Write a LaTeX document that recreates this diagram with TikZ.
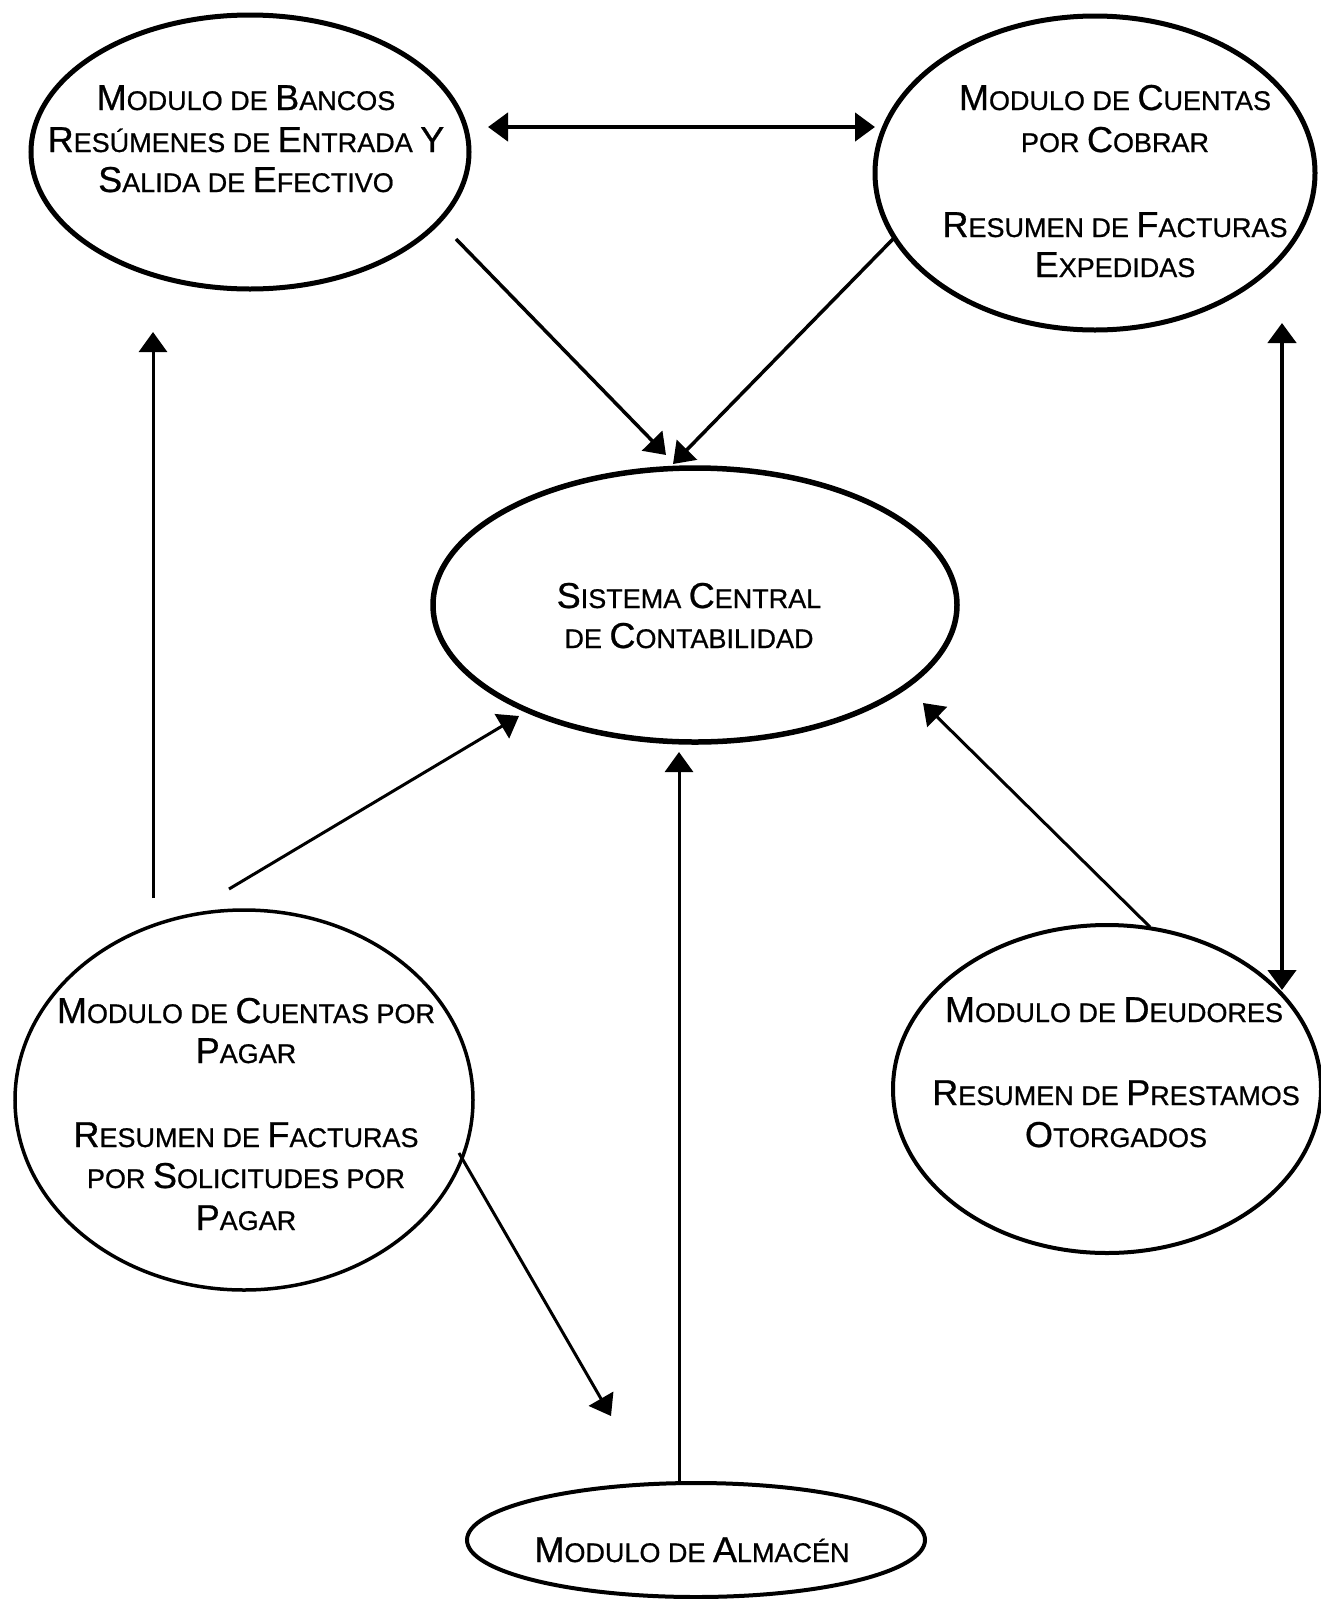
\documentclass[tikz,border=0pt]{standalone}
\usepackage{fontspec}
\setmainfont{Liberation Sans}[FakeBold=0.7]
\usetikzlibrary{arrows.meta,shapes.geometric}
\newcommand\BC[1]{{\fontsize{36}{41}\selectfont #1}}
\tikzset{
  oval/.style={draw, ellipse, inner sep=0pt, line width=#1},
  lbl/.style={anchor=base, inner sep=0pt, font=\fontsize{27}{41}\selectfont},
  con/.style={line width=#1, -{Triangle[length=20pt,width=28pt]}},
  dcon/.style={line width=#1, {Triangle[length=20pt,width=28pt]}-{Triangle[length=20pt,width=28pt]}},
}
\begin{document}
\begin{tikzpicture}[x=1pt,y=-1pt]
\useasboundingbox[fill=white] (0,0) rectangle (1321,1599);
% ellipses
\node[oval=5pt, minimum width=438pt, minimum height=274pt] (bancos) at (250,152) {};
\node[oval=5pt, minimum width=440pt, minimum height=314pt] (cobrar) at (1095,173) {};
\node[oval=5.5pt, minimum width=524pt, minimum height=274pt] (central) at (695,605) {};
\node[oval=3.5pt, minimum width=458pt, minimum height=380pt] (pagar) at (244,1100) {};
\node[oval=4pt, minimum width=428pt, minimum height=328pt] (deudores) at (1107,1089) {};
\node[oval=4pt, minimum width=458pt, minimum height=114pt] (almacen) at (696,1540) {};
% texts
\node[lbl] (bancosA) at (246,110) {\BC{M}ODULO DE \BC{B}ANCOS};
\node[lbl] (bancosB) at (246,152) {\BC{R}ESÚMENES DE \BC{E}NTRADA \BC{Y}};
\node[lbl] (bancosC) at (246,192) {\BC{S}ALIDA DE \BC{E}FECTIVO};
\node[lbl] (cobrarA) at (1115,110) {\BC{M}ODULO DE \BC{C}UENTAS};
\node[lbl] (cobrarB) at (1115,152) {POR \BC{C}OBRAR};
\node[lbl] (cobrarC) at (1115,237) {\BC{R}ESUMEN DE \BC{F}ACTURAS};
\node[lbl] (cobrarD) at (1115,277) {\BC{E}XPEDIDAS};
\node[lbl] (centralA) at (689,608) {\BC{S}ISTEMA \BC{C}ENTRAL};
\node[lbl] (centralB) at (689,648) {DE \BC{C}ONTABILIDAD};
\node[lbl] (pagarA) at (246,1023) {\BC{M}ODULO DE \BC{C}UENTAS POR};
\node[lbl] (pagarB) at (246,1063) {\BC{P}AGAR};
\node[lbl] (pagarC) at (246,1147) {\BC{R}ESUMEN DE \BC{F}ACTURAS};
\node[lbl] (pagarD) at (246,1188) {POR \BC{S}OLICITUDES POR};
\node[lbl] (pagarE) at (246,1230) {\BC{P}AGAR};
\node[lbl] (deudoresA) at (1114,1022) {\BC{M}ODULO DE \BC{D}EUDORES};
\node[lbl] (deudoresB) at (1116,1105) {\BC{R}ESUMEN DE \BC{P}RESTAMOS};
\node[lbl] (deudoresC) at (1116,1147) {\BC{O}TORGADOS};
\node[lbl] (almacenA) at (692,1562) {\BC{M}ODULO DE \BC{A}LMAC\'EN};
% connector end points
\coordinate (bcL) at (488,127);
\coordinate (bcR) at (875,127);
\coordinate (b2cS) at (456,239);
\coordinate (b2cE) at (666,455);
\coordinate (co2cS) at (894,238);
\coordinate (co2cE) at (673,464);
\coordinate (p2bS) at (153,898);
\coordinate (p2bE) at (153,332);
\coordinate (p2cS) at (229,889);
\coordinate (p2cE) at (519,716);
\coordinate (a2cS) at (679,1484);
\coordinate (a2cE) at (679,752);
\coordinate (d2cS) at (1150,927);
\coordinate (d2cE) at (923,703);
\coordinate (cdT) at (1282,323);
\coordinate (cdB) at (1282,990);
\coordinate (p2aS) at (459,1153);
\coordinate (p2aE) at (611,1416);
% connectors
\draw[dcon=4.5pt] (bcL) -- (bcR);
\draw[con=3.5pt] (b2cS) -- (b2cE);
\draw[con=3.5pt] (co2cS) -- (co2cE);
\draw[con=3pt] (p2bS) -- (p2bE);
\draw[con=3pt] (p2cS) -- (p2cE);
\draw[con=3pt] (a2cS) -- (a2cE);
\draw[con=3pt] (d2cS) -- (d2cE);
\draw[dcon=4.5pt] (cdT) -- (cdB);
\draw[con=3pt] (p2aS) -- (p2aE);
\end{tikzpicture}
\end{document}
